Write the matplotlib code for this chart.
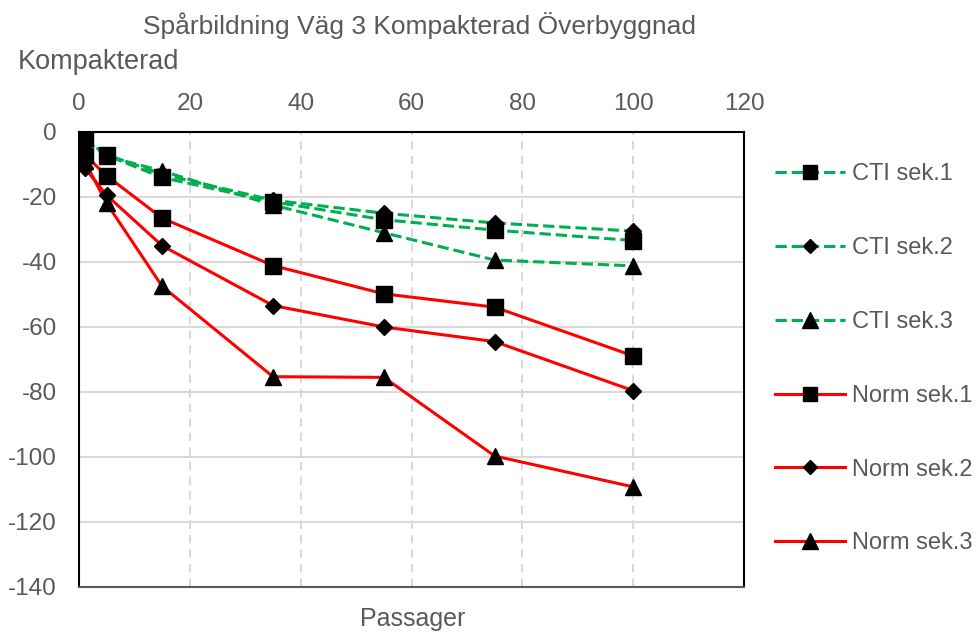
import matplotlib
matplotlib.use("Agg")
import matplotlib.pyplot as plt
from matplotlib.lines import Line2D

plt.rcParams['font.family'] = ['Liberation Sans', 'DejaVu Sans']
plt.rcParams['axes.unicode_minus'] = False

# Number of passes
passager = [1, 5, 15, 35, 55, 75, 100]

# Rut depth (mm), compacted pavement, road 3
cti_sek1 = [-2.0, -7.2, -14.0, -21.5, -27.0, -30.2, -33.4]
cti_sek2 = [-3.0, -7.0, -13.0, -21.0, -25.0, -28.0, -30.5]
cti_sek3 = [-1.5, -7.5, -12.0, -22.5, -31.0, -39.4, -41.2]
norm_sek1 = [-7.0, -13.5, -26.5, -41.1, -49.8, -53.9, -68.9]
norm_sek2 = [-11.0, -19.5, -35.0, -53.4, -60.0, -64.5, -79.6]
norm_sek3 = [-9.0, -22.0, -47.5, -75.3, -75.5, -99.7, -109.2]

series = [
    ("CTI sek.1", cti_sek1, "#00B050", "--", "s", 11),
    ("CTI sek.2", cti_sek2, "#00B050", "--", "D", 8),
    ("CTI sek.3", cti_sek3, "#00B050", "--", "^", 12),
    ("Norm sek.1", norm_sek1, "#FF0000", "-", "s", 11),
    ("Norm sek.2", norm_sek2, "#FF0000", "-", "D", 8),
    ("Norm sek.3", norm_sek3, "#FF0000", "-", "^", 12),
]

text_color = "#595959"
fs = 17.5

fig = plt.figure(figsize=(9.77, 6.33), dpi=100)
ax = fig.add_axes([0.0809, 0.0727, 0.6807, 0.7188])

# Norm series first so the CTI lines sit on top
handles = []
for name, vals, col, ls, mk, ms in series[::-1]:
    ax.plot(passager, vals, color=col, linestyle=ls, linewidth=2.2,
            marker=mk, markersize=ms, markerfacecolor="black",
            markeredgecolor="black", zorder=3)
for name, vals, col, ls, mk, ms in series:
    handles.append(Line2D([0], [0], color=col, linestyle=ls, linewidth=2.2,
                          marker=mk, markersize=ms * 0.95,
                          markerfacecolor="black", markeredgecolor="black",
                          label=name))

ax.set_xlim(0, 120)
ax.set_ylim(-140, 0)
ax.set_xticks(range(0, 121, 20))
ax.set_yticks(range(-140, 1, 20))

ax.xaxis.tick_top()
ax.tick_params(axis="x", length=0, pad=12, labelsize=fs, labelcolor=text_color)
ax.tick_params(axis="y", length=0, pad=16, labelsize=fs, labelcolor=text_color)

# Grid: solid horizontal, dashed vertical
for y in range(-120, 0, 20):
    ax.axhline(y, color="#D9D9D9", linewidth=1.5, zorder=1)
for x in range(20, 101, 20):
    ax.axvline(x, color="#D9D9D9", linewidth=1.5, linestyle=(0, (4, 3)), zorder=1)

for side in ["left", "right", "top"]:
    ax.spines[side].set_color("black")
    ax.spines[side].set_linewidth(1.5)
ax.spines["bottom"].set_color("#595959")
ax.spines["bottom"].set_linewidth(1.5)

fig.text(0.429, 0.959, "Spårbildning Väg 3 Kompakterad Överbyggnad",
         ha="center", va="center", fontsize=19, color=text_color)
fig.text(0.018, 0.902, "Kompakterad", ha="left", va="center",
         fontsize=19.5, color=text_color)
fig.text(0.422, 0.022, "Passager", ha="center", va="center",
         fontsize=18, color=text_color)

fig.legend(handles=handles, loc="upper left", bbox_to_anchor=(0.7932, 0.742),
           frameon=False, fontsize=17, labelcolor=text_color,
           handlelength=2.97, handletextpad=0.3, labelspacing=2.195,
           borderaxespad=0, borderpad=0)

fig.savefig("out.png", dpi=100)
